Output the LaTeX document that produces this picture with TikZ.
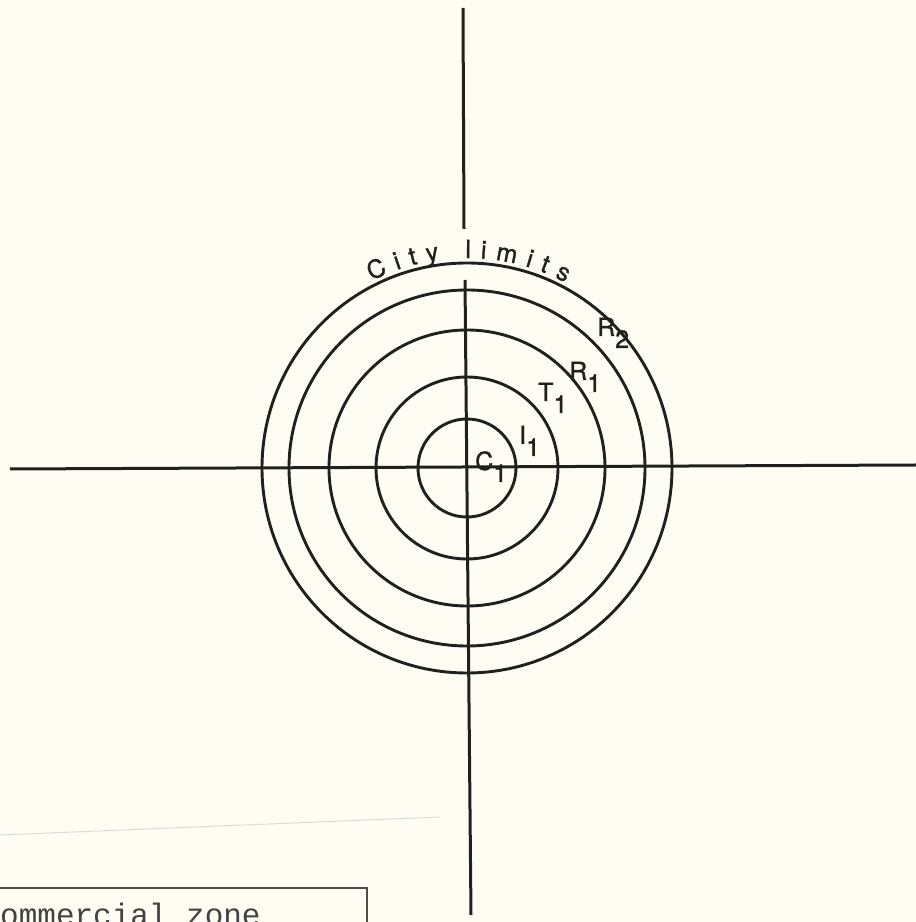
\documentclass[tikz,border=0pt]{standalone}
\usepackage{fontspec}
\setmainfont{TeX Gyre Heros}
\setmonofont{Liberation Mono}
\newfontfamily\labelfont[FakeBold=1.2]{TeX Gyre Heros}
\usetikzlibrary{decorations.text}
\definecolor{paper}{RGB}{254,253,244}
\definecolor{ink}{RGB}{34,32,30}
\newcommand{\lowsub}[1]{\raisebox{-12pt}{#1}}

\begin{document}
\begin{tikzpicture}[x=1pt, y=1pt,
  axis/.style={ink, line width=3pt},
  ring/.style={ink, line width=2.9pt},
  zone/.style={font=\labelfont\fontsize{25}{25}\selectfont, text=ink,
               inner sep=0pt, anchor=base west},
  legend/.style={ink!80, line width=1.5pt},
  fold/.style={black!14, line width=1pt},
]
% ---------------- paper ----------------
\fill[paper] (0,0) rectangle (916,922);
\useasboundingbox (0,0) rectangle (916,922);
\clip (0,0) rectangle (916,922);

\coordinate (ctr) at (467,454);

% ---------------- axes ----------------
\coordinate (ntop) at (463,914);
\coordinate (nend) at (464,693);
\coordinate (sbeg) at (465,642);
\coordinate (sbot) at (471,7);
\coordinate (west) at (10,453);
\coordinate (east) at (916,457);
\draw[axis] (ntop) -- (nend);
\draw[axis] (sbeg) -- (sbot);
\draw[axis] (west) -- (east);

% ---------------- zones ----------------
\foreach \r in {49,91,138,178,205}
  \draw[ring] (ctr) circle[radius=\r];

\path[decorate, decoration={text along path, text align=fit to path,
  text={|\labelfont\fontsize{25}{25}\selectfont\color{ink}|City limits}}]
  (ctr) ++(117:210) arc[start angle=117, end angle=62, radius=210];

\node[zone] (c1) at (475,452) {C\lowsub{1}};
\node[zone] (i1) at (519,478) {I\lowsub{1}};
\node[zone] (t1) at (538,521) {T\lowsub{1}};
\node[zone] (r1) at (569,542) {R\lowsub{1}};
\node[zone] (r2) at (597,586) {R\lowsub{2}};

% ---------------- legend ----------------
\draw[fold] (0,87) .. controls (220,96) .. (440,105);
\coordinate (lgtl) at (-5,34);
\coordinate (lgtr) at (367,34);
\coordinate (lgbr) at (367,-10);
\draw[legend] (lgtl) -- (lgtr) -- (lgbr);
\node[font=\ttfamily\fontsize{31}{31}\selectfont, text=ink!85, inner sep=0pt,
      anchor=base west] (lgtxt) at (-18.6,-3) {Commercial zone};
\end{tikzpicture}
\end{document}
